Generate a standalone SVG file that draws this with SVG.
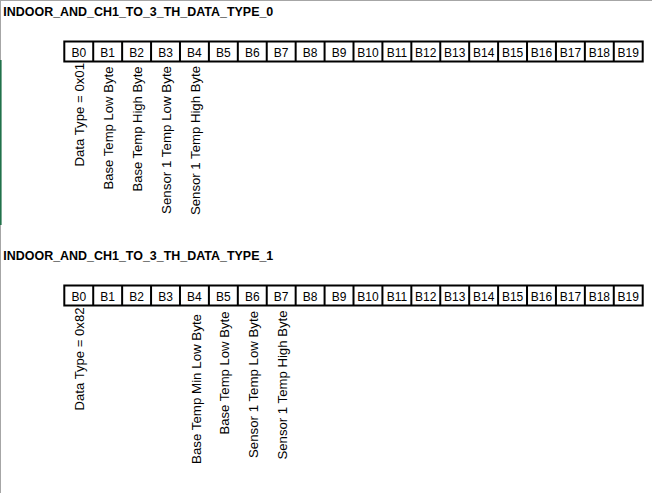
<svg xmlns="http://www.w3.org/2000/svg" width="652" height="493" viewBox="0 0 652 493">
<style>
.title{font-family:"Liberation Sans",Arial,sans-serif;font-weight:bold;font-size:12px;fill:#000}
.cell{fill:#fff;stroke:#000;stroke-width:2}
.cl{font-family:"Liberation Sans",Arial,sans-serif;font-size:12px;fill:#000;text-anchor:middle}
.vl{font-family:"Liberation Sans",Arial,sans-serif;font-size:12.5px;fill:#000;text-anchor:end}
</style>
<rect x="0" y="0" width="652" height="493" fill="#fff"/>
<line x1="0" y1="0.5" x2="652" y2="0.5" stroke="#a6a6a6" stroke-width="1"/>
<line x1="0.5" y1="0" x2="0.5" y2="493" stroke="#a6a6a6" stroke-width="1"/>
<rect x="0" y="60" width="1.6" height="165" fill="#21714a"/>

<g id="table0">
<text class="title" x="3.3" y="16" textLength="270" lengthAdjust="spacingAndGlyphs">INDOOR_AND_CH1_TO_3_TH_DATA_TYPE_0</text>
<g id="t0-cells">
<rect class="cell" x="64.3" y="41.5" width="578.4" height="20"/>
<path d="M93.22 41.5V61.5M122.14 41.5V61.5M151.06 41.5V61.5M179.98 41.5V61.5M208.9 41.5V61.5M237.82 41.5V61.5M266.74 41.5V61.5M295.66 41.5V61.5M324.58 41.5V61.5M353.5 41.5V61.5M382.42 41.5V61.5M411.34 41.5V61.5M440.26 41.5V61.5M469.18 41.5V61.5M498.1 41.5V61.5M527.02 41.5V61.5M555.94 41.5V61.5M584.86 41.5V61.5M613.78 41.5V61.5" stroke="#000" stroke-width="2" fill="none"/>
<text class="cl" x="78.76" y="56.5">B0</text>
<text class="cl" x="107.68" y="56.5">B1</text>
<text class="cl" x="136.6" y="56.5">B2</text>
<text class="cl" x="165.52" y="56.5">B3</text>
<text class="cl" x="194.44" y="56.5">B4</text>
<text class="cl" x="223.36" y="56.5">B5</text>
<text class="cl" x="252.28" y="56.5">B6</text>
<text class="cl" x="281.2" y="56.5">B7</text>
<text class="cl" x="310.12" y="56.5">B8</text>
<text class="cl" x="339.04" y="56.5">B9</text>
<text class="cl" x="367.96" y="56.5">B10</text>
<text class="cl" x="396.88" y="56.5">B11</text>
<text class="cl" x="425.8" y="56.5">B12</text>
<text class="cl" x="454.72" y="56.5">B13</text>
<text class="cl" x="483.64" y="56.5">B14</text>
<text class="cl" x="512.56" y="56.5">B15</text>
<text class="cl" x="541.48" y="56.5">B16</text>
<text class="cl" x="570.4" y="56.5">B17</text>
<text class="cl" x="599.32" y="56.5">B18</text>
<text class="cl" x="628.24" y="56.5">B19</text>
</g>
<g id="t0-labels">
<text class="vl" transform="translate(84.3,63) rotate(-90)" textLength="103.5" lengthAdjust="spacingAndGlyphs">Data Type = 0x01</text>
<text class="vl" transform="translate(112.9,66.5) rotate(-90)" textLength="123" lengthAdjust="spacingAndGlyphs">Base Temp Low Byte</text>
<text class="vl" transform="translate(141.8,66.5) rotate(-90)" textLength="125" lengthAdjust="spacingAndGlyphs">Base Temp High Byte</text>
<text class="vl" transform="translate(170.8,66) rotate(-90)" textLength="148" lengthAdjust="spacingAndGlyphs">Sensor 1 Temp Low Byte</text>
<text class="vl" transform="translate(199.7,66) rotate(-90)" textLength="149" lengthAdjust="spacingAndGlyphs">Sensor 1 Temp High Byte</text>
</g>
</g>

<g id="table1">
<text class="title" x="3.3" y="259.5" textLength="270" lengthAdjust="spacingAndGlyphs">INDOOR_AND_CH1_TO_3_TH_DATA_TYPE_1</text>
<g id="t1-cells">
<rect class="cell" x="64.3" y="285.5" width="578.4" height="20"/>
<path d="M93.22 285.5V305.5M122.14 285.5V305.5M151.06 285.5V305.5M179.98 285.5V305.5M208.9 285.5V305.5M237.82 285.5V305.5M266.74 285.5V305.5M295.66 285.5V305.5M324.58 285.5V305.5M353.5 285.5V305.5M382.42 285.5V305.5M411.34 285.5V305.5M440.26 285.5V305.5M469.18 285.5V305.5M498.1 285.5V305.5M527.02 285.5V305.5M555.94 285.5V305.5M584.86 285.5V305.5M613.78 285.5V305.5" stroke="#000" stroke-width="2" fill="none"/>
<text class="cl" x="78.76" y="300.5">B0</text>
<text class="cl" x="107.68" y="300.5">B1</text>
<text class="cl" x="136.6" y="300.5">B2</text>
<text class="cl" x="165.52" y="300.5">B3</text>
<text class="cl" x="194.44" y="300.5">B4</text>
<text class="cl" x="223.36" y="300.5">B5</text>
<text class="cl" x="252.28" y="300.5">B6</text>
<text class="cl" x="281.2" y="300.5">B7</text>
<text class="cl" x="310.12" y="300.5">B8</text>
<text class="cl" x="339.04" y="300.5">B9</text>
<text class="cl" x="367.96" y="300.5">B10</text>
<text class="cl" x="396.88" y="300.5">B11</text>
<text class="cl" x="425.8" y="300.5">B12</text>
<text class="cl" x="454.72" y="300.5">B13</text>
<text class="cl" x="483.64" y="300.5">B14</text>
<text class="cl" x="512.56" y="300.5">B15</text>
<text class="cl" x="541.48" y="300.5">B16</text>
<text class="cl" x="570.4" y="300.5">B17</text>
<text class="cl" x="599.32" y="300.5">B18</text>
<text class="cl" x="628.24" y="300.5">B19</text>
</g>
<g id="t1-labels">
<text class="vl" transform="translate(84.3,307.5) rotate(-90)" textLength="103" lengthAdjust="spacingAndGlyphs">Data Type = 0x82</text>
<text class="vl" transform="translate(201.2,314) rotate(-90)" textLength="150" lengthAdjust="spacingAndGlyphs">Base Temp Min Low Byte</text>
<text class="vl" transform="translate(229,311.5) rotate(-90)" textLength="123" lengthAdjust="spacingAndGlyphs">Base Temp Low Byte</text>
<text class="vl" transform="translate(257.5,311) rotate(-90)" textLength="147" lengthAdjust="spacingAndGlyphs">Sensor 1 Temp Low Byte</text>
<text class="vl" transform="translate(286.7,310.5) rotate(-90)" textLength="149" lengthAdjust="spacingAndGlyphs">Sensor 1 Temp High Byte</text>
</g>
</g>
</svg>
